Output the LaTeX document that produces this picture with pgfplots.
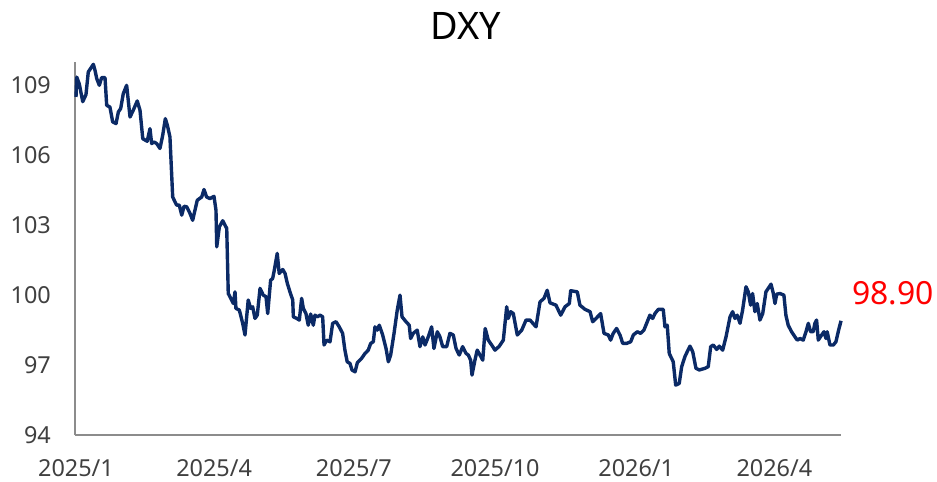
\documentclass[border=0pt]{standalone}
\usepackage{pgfplots}
\pgfplotsset{compat=1.18}
\usepackage{fontspec}
\setmainfont{Noto Sans}
\definecolor{navy}{HTML}{0B2A66}
\definecolor{axgray}{HTML}{8C8C8C}
\definecolor{lblgray}{HTML}{404040}
\begin{document}
\begin{tikzpicture}
\begin{axis}[
  name=ax,
  scale only axis,
  width=766bp, height=373bp,
  xmin=-0.65, xmax=498.4,
  ymin=94, ymax=110,
  axis lines*=left,
  axis line style={draw=axgray, line width=1.6bp},
  major tick length=0pt,
  xtick={0,90,181,273,365,455},
  xticklabels={2025/1,2025/4,2025/7,2025/10,2026/1,2026/4},
  ytick={94,97,100,103,106,109},
  /pgf/number format/assume math mode=true,
  tick label style={font=\fontsize{23.5}{28}\selectfont, text=lblgray},
  yticklabel style={inner sep=0pt, anchor=east, xshift=-24bp},
  xticklabel style={inner sep=0pt, anchor=north, yshift=-24bp},
  clip=false,
]
\addplot[navy, line width=3.4bp, line join=round] coordinates {
(0,108.5)(0.5,109.35)(2.1,109.07)(4.4,108.3)(6.5,108.6)(8.0,109.57)(11.3,109.9)(12.4,109.64)(13.5,109.29)(15.2,109.0)(16.7,109.33)(18.9,109.33)(20.0,108.14)(22.1,108.07)(23.9,107.43)(26.1,107.36)(27.6,107.86)(29.1,108.0)(30.8,108.64)(33.0,109.0)(35.2,107.64)(37.3,107.93)(39.9,108.33)(41.7,107.93)(43.5,106.71)(46.4,106.6)(48.2,107.14)(49.3,106.5)(50.8,106.57)(52.6,106.5)(54.7,106.29)(56.5,106.86)(58.2,107.57)(59.5,107.29)(61.2,106.79)(63.0,104.21)(64.5,104.0)(65.6,103.86)(67.3,103.86)(68.9,103.43)(70.4,103.81)(72.1,103.79)(74.3,103.5)(76.0,103.21)(77.5,103.64)(79.0,104.07)(81.9,104.21)(83.4,104.53)(85.1,104.21)(87.3,104.14)(89.9,104.24)(91.2,103.64)(91.7,102.07)(93.4,102.93)(95.6,103.19)(98.2,102.86)
(99.2,100.07)(101.4,99.79)(102.5,99.64)(103.6,100.14)(104.2,99.43)(106.4,99.36)(108.6,98.79)(110.1,98.29)(112.2,99.79)(113.8,99.43)(115.1,99.5)(116.6,99.0)(118.1,99.14)(119.9,100.29)(122.0,100.0)(123.8,99.93)(124.9,99.21)(126.8,100.64)(128.1,100.71)(129.0,101.0)(131.1,101.79)(132.4,100.93)(134.7,101.1)(136.2,100.93)(137.7,100.5)(139.4,100.14)(141.2,99.79)(141.6,99.07)(143.8,99.0)(145.5,98.93)(147.0,99.86)(148.1,99.43)(149.8,99.21)(151.3,98.71)(152.9,99.19)(154.6,98.71)(155.7,99.14)(157.2,99.07)(159.0,99.14)(160.7,99.07)(161.6,97.86)(163.3,98.07)(165.5,98.0)(167.2,98.79)(169.4,98.86)(171.5,98.64)(173.7,98.36)(175.2,97.64)(176.7,97.14)(178.5,97.07)(179.8,96.79)(181.8,96.71)(183.3,97.1)(186.1,97.29)(188.3,97.5)(190.4,97.64)(192.0,97.93)(193.7,98.0)(194.8,98.64)(196.3,98.5)(197.6,98.71)(199.8,98.29)(202.0,97.71)(203.5,97.14)(205.0,97.43)(207.2,98.36)(209.3,99.36)(211.1,100.0)(212.4,99.07)(215.0,98.86)(217.1,98.71)(218.0,98.14)(219.7,98.36)(222.3,98.5)(224.1,97.79)(225.9,98.21)(227.4,97.86)(229.5,98.21)(231.7,98.64)(233.2,97.71)(235.4,98.43)(237.1,98.21)(238.9,97.79)(241.5,97.79)(243.6,98.36)(245.8,98.29)(247.6,97.71)(249.7,97.43)
(251.9,97.79)(254.1,97.5)(255.6,97.43)(257.1,97.21)(258.0,96.57)(259.9,97.21)(261.4,97.64)(263.2,97.43)(265.0,97.21)(266.6,98.57)(268.6,98.07)(270.8,97.86)(273.0,97.64)(275.8,97.81)(278.4,98.07)(280.6,99.5)(281.6,99.0)(283.2,99.29)(284.9,99.21)(287.5,98.29)(290.4,98.5)(293.2,98.93)(295.8,98.93)(299.7,98.64)(302.3,99.71)(304.9,99.86)(307.0,100.21)(308.8,99.67)(312.7,99.57)(315.8,99.14)(318.6,99.5)(321.4,99.64)(322.3,100.19)(326.6,100.14)(328.3,99.57)(331.6,99.39)(334.9,99.29)(336.6,98.86)(338.8,99.0)(341.8,99.21)(344.0,98.36)(346.8,98.29)(348.3,98.07)(350.0,98.36)(352.2,98.57)(354.4,98.29)(356.2,97.93)(358.8,97.93)(361.4,98.0)(363.1,98.29)(365.7,98.43)(367.9,98.36)(370.0,98.5)(372.2,98.86)(373.9,99.14)(375.7,99.0)(377.2,99.21)(379.4,99.39)(382.6,99.39)
(383.7,98.64)(385.2,98.71)(386.5,97.5)(389.1,97.14)(390.7,96.14)(393.0,96.21)(394.6,96.93)(396.7,97.36)(398.2,97.57)(400.0,97.81)(401.8,97.57)(403.9,96.86)(406.1,96.79)(409.8,96.86)(411.9,96.93)(413.5,97.79)(415.2,97.86)(417.4,97.67)(419.1,97.81)(421.3,97.64)(423.5,98.21)(426.1,99.07)(427.8,99.29)(429.3,99.0)(430.8,99.14)(432.6,98.79)(434.3,99.36)(436.5,100.36)(438.0,100.14)(439.5,99.57)(440.8,100.07)(442.3,99.29)(443.8,99.64)(445.6,98.93)(447.4,99.21)(449.5,100.14)(451.0,100.29)(452.8,100.47)(454.3,100.07)(455.4,99.64)(456.5,100.04)(458.6,100.07)(461.2,100.0)(462.5,99.14)(464.0,98.71)(466.2,98.43)(468.4,98.21)(469.9,98.07)(471.7,98.14)(473.8,98.07)(475.6,98.43)(477.1,98.79)(478.6,98.43)(480.3,98.43)(481.4,98.79)(482.5,98.93)(483.6,98.07)(485.8,98.29)(487.3,98.43)(488.6,98.14)(489.4,98.43)(491.2,97.86)(493.4,97.86)(495.1,98.0)(496.6,98.43)(498.4,98.9)
};
\node[anchor=west, text=red, inner sep=0pt, font=\fontsize{32}{36}\selectfont] at (axis cs:498.4,100.09) [xshift=11bp] {98.90};
\end{axis}
\node[anchor=base, font=\fontsize{38}{44}\selectfont, inner sep=0pt] at ([shift={(8bp,22bp)}]ax.north) {DXY};
\pgfresetboundingbox
\path ([shift={(-75bp,-47bp)}]ax.south west) rectangle ([shift={(96bp,62bp)}]ax.north east);
\end{tikzpicture}
\end{document}
